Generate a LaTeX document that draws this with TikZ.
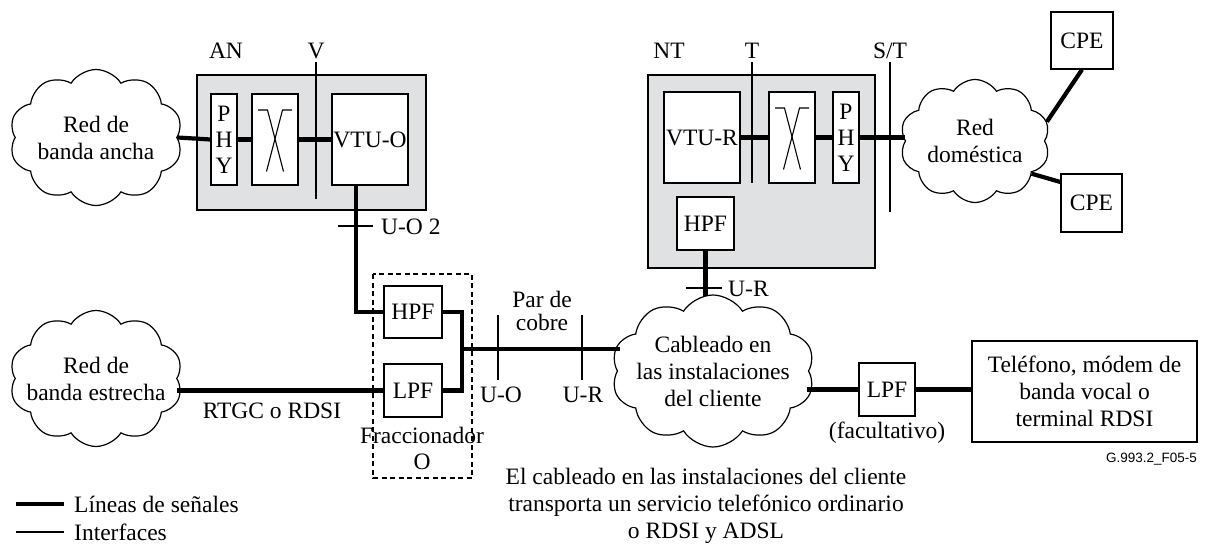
\documentclass[tikz,border=0pt]{standalone}
\usepackage{fontspec}
\setmainfont{Liberation Serif}
\newfontfamily\figsans{Liberation Sans}
\usetikzlibrary{shapes.symbols,calc}
\definecolor{boxgray}{RGB}{224,225,227}
\tikzset{
  sig/.style={line width=4.2pt},
  intf/.style={line width=1.1pt},
  blk/.style={draw, line width=1.2pt, fill=white, inner sep=0pt, align=center},
  grp/.style={draw, line width=1.2pt, fill=boxgray, inner sep=0pt},
  cld/.style={cloud, draw, line width=1.2pt, fill=white, cloud puffs=10, cloud puff arc=115, inner xsep=-40pt, inner ysep=-30pt, align=center},
  lbl/.style={inner sep=0pt, align=center},
}
\newcommand\xsym[1]{%
  \draw[intf] ([shift={(-17,-29.5)}]#1.center) -- ++(9.5,0) -- ++(16,61.5);
  \draw[intf] ([shift={(17,-29.5)}]#1.center) -- ++(-9.5,0) -- ++(-16,61.5);}
\begin{document}
\begin{tikzpicture}[x=1pt, y=-1pt, font=\fontsize{23.5}{27}\selectfont]
\useasboundingbox (0,0) rectangle (1206,544);

% --- AN group
\node[grp, minimum width=229pt, minimum height=135pt] (an) at (311.5,142.5) {};
\node[blk, minimum width=26pt, minimum height=91pt] (phy1) at (224,139.5) {P\\[-1pt]H\\[-1pt]Y};
\node[blk, minimum width=46pt, minimum height=91pt] (x1) at (275,139.5) {};
\node[blk, minimum width=76pt, minimum height=91pt] (vtuo) at (370,139.5) {VTU-O};
\xsym{x1}
\node[lbl, anchor=base] (anl) at (226,58) {AN};
\node[lbl, anchor=base] (vl) at (316,58) {V};
\draw[intf] (316,62) -- (316,199);

% --- NT group
\node[grp, minimum width=227pt, minimum height=193pt] (nt) at (761.5,171.5) {};
\node[blk, minimum width=76pt, minimum height=91pt] (vtur) at (702,137.5) {VTU-R};
\node[blk, minimum width=46pt, minimum height=91pt] (x2) at (792,137.5) {};
\node[blk, minimum width=26pt, minimum height=91pt] (phy2) at (846,137.5) {P\\[-1pt]H\\[-1pt]Y};
\node[blk, minimum width=57pt, minimum height=53pt] (hpfnt) at (705.5,223.5) {HPF};
\xsym{x2}
\node[lbl, anchor=base] (ntl) at (669,58) {NT};
\node[lbl, anchor=base] (tl) at (752,58) {T};
\node[lbl, anchor=base] (stl) at (890,58) {S/T};
\draw[intf] (752,62) -- (752,183);
\draw[intf] (890,62) -- (890,212);

% --- clouds
\node[cld, minimum width=173pt, minimum height=136pt] (c1) at (96,137.5) {Red de\\banda ancha};
\node[cld, minimum width=173pt, minimum height=136pt] (c2) at (96,378.5) {Red de\\banda estrecha};
\node[cld, minimum width=150pt, minimum height=123pt] (c3) at (975,141) {Red\\doméstica};
\node[cld, minimum width=203pt, minimum height=152pt] (c4) at (713,371) {Cableado en\\las instalaciones\\del cliente};

% --- CPE
\node[blk, minimum width=62pt, minimum height=57pt] (cpe1) at (1082,40.5) {CPE};
\node[blk, minimum width=61pt, minimum height=58pt] (cpe2) at (1091.5,203) {CPE};

% --- splitter
\draw[dashed, dash pattern=on 5pt off 3.5pt, line width=1.1pt] (373,274) rectangle (472,478);
\node[blk, minimum width=58pt, minimum height=52pt] (hpf) at (413,312) {HPF};
\node[blk, minimum width=58pt, minimum height=53pt] (lpf) at (413,390.5) {LPF};
\node[lbl] (frac) at (422,448) {Fraccionador\\[-1pt]O};

% --- right side
\node[blk, minimum width=56pt, minimum height=53pt] (lpf2) at (887,389.5) {LPF};
\node[blk, minimum width=225pt, minimum height=101pt] (tel) at (1084.5,391.5) {Teléfono, módem de\\banda vocal o\\terminal RDSI};
\node[lbl] (fac) at (887,433) {(facultativo)};
\node[lbl, anchor=base east, font=\figsans\fontsize{13.5}{16}\selectfont] (fig) at (1197,462) {G.993.2\_F05-5};

% --- signal lines
\draw[sig] (c1.east) -- (phy1.west);
\draw[sig] (phy1.east) -- (x1.west);
\draw[sig] (x1.east) -- (vtuo.west);
\draw[sig] ([xshift=-14pt]vtuo.south) |- (hpf.west);
\coordinate (j) at (462,349);
\draw[sig, line join=miter] (hpf.east) -| (j) |- (lpf.east);
\draw[sig] (j) -- ([xshift=3pt]j -| c4.west);
\draw[sig] (lpf.west -| c2.east) -- (lpf.west);
\draw[sig] (hpfnt.south) -- ([yshift=-2pt]hpfnt.south |- c4.north);
\draw[sig] (vtur.east) -- (x2.west);
\draw[sig] (x2.east) -- (phy2.west);
\draw[sig] (phy2.east) -- (phy2.east -| c3.west);
\draw[sig] (c3.15) -- (cpe1.south);
\draw[sig] (c3.-30) -- ([yshift=21pt]cpe2.west);
\draw[sig] ([xshift=-2pt]lpf2.west -| c4.east) -- (lpf2.west);
\draw[sig] (lpf2.east) -- (tel.west |- lpf2.east);

% --- interfaces
\draw[intf] (338,226) -- (373,226);
\node[lbl, anchor=base west] (uo2) at (381,234) {U-O 2};
\draw[intf] (686,288) -- (722,288);
\node[lbl, anchor=base west] (ur1) at (728,296) {U-R};
\draw[intf] (498,315) -- (498,380);
\draw[intf] (582,315) -- (582,380);
\node[lbl, anchor=base] (uo) at (501,402) {U-O};
\node[lbl, anchor=base] (ur) at (583,402) {U-R};
\node[lbl, font=\fontsize{23.5}{23}\selectfont] (par) at (542,311) {Par de\\cobre};
\node[lbl, anchor=base] (rtgc) at (272,418) {RTGC o RDSI};

% --- bottom note
\node[lbl] (note) at (706,506) {El cableado en las instalaciones del cliente\\transporta un servicio telefónico ordinario\\o RDSI y ADSL};

% --- legend
\draw[sig] (16,504) -- (64,504);
\node[lbl, anchor=west] (leg1) at (74,504) {Líneas de señales};
\draw[intf] (16,532) -- (64,532);
\node[lbl, anchor=west] (leg2) at (74,532) {Interfaces};
\end{tikzpicture}
\end{document}
